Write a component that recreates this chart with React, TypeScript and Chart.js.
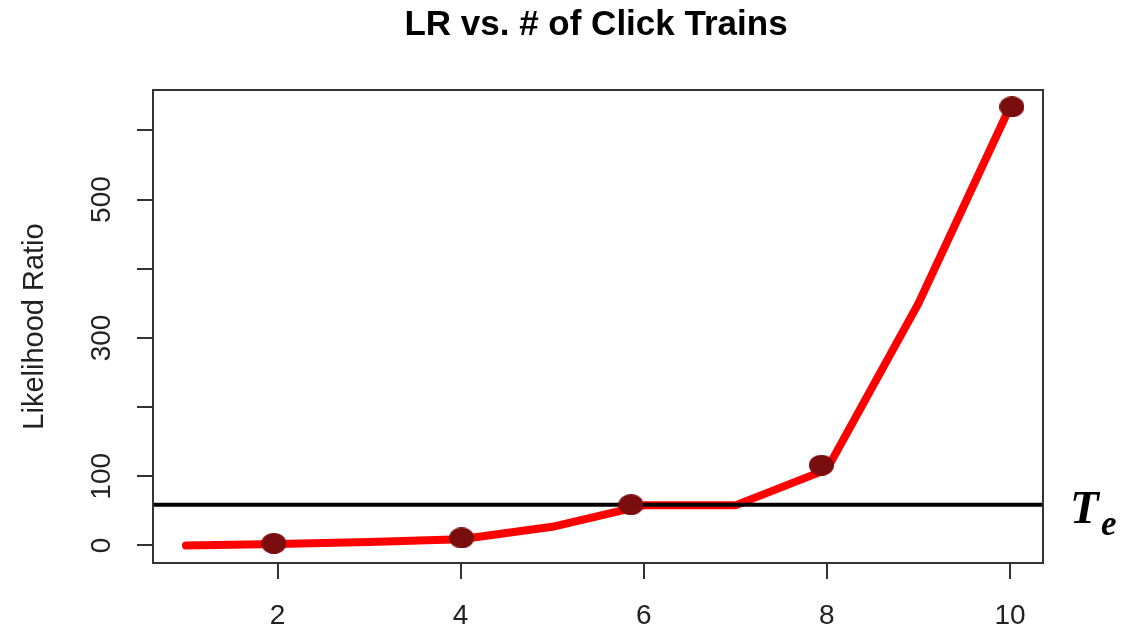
import React, { useEffect, useRef } from 'react';
import { Chart, registerables } from 'chart.js';

Chart.register(...registerables);

// ---- data ----
const xCategories = [1, 2, 3, 4, 5, 6, 7, 8, 9, 10];
const lrValues = [0, 2, 5, 9, 27, 58, 58, 110, 350, 634];
const markerX = [1.96, 4.01, 5.86, 7.94, 10.02];
const markerY = [3, 11, 59, 116, 634];
const threshold = 59;
const xTicks = [2, 4, 6, 8, 10];
const yTicks = [0, 100, 200, 300, 400, 500, 600];
const yTickLabels = ['0', '100', '', '300', '', '500', ''];
const xMin = 0.64;
const xMax = 10.36;
const yMin = -25.3;
const yMax = 658.3;
const titleText = 'LR vs. # of Click Trains';
const yTitleText = 'Likelihood Ratio';
const thresholdMain = 'T';
const thresholdSub = 'e';

const SANS = '"Liberation Sans", Arial, sans-serif';
const SERIF = '"Liberation Serif", "Times New Roman", serif';

function makeEllipse(w: number, h: number, color: string) {
  const c = document.createElement('canvas');
  c.width = w;
  c.height = h;
  const g = c.getContext('2d')!;
  g.fillStyle = color;
  g.beginPath();
  g.ellipse(w / 2, h / 2, w / 2, h / 2, 0, 0, Math.PI * 2);
  g.fill();
  return c;
}

const annotPlugin = {
  id: 'annot',
  afterDraw(chart: any) {
    const { ctx, chartArea: a, scales } = chart;
    ctx.save();
    ctx.strokeStyle = '#333';
    ctx.lineWidth = 2;
    ctx.strokeRect(a.left, a.top, a.right - a.left, a.bottom - a.top);

    ctx.fillStyle = '#000';
    ctx.font = `bold 35px ${SANS}`;
    ctx.textAlign = 'center';
    ctx.textBaseline = 'alphabetic';
    ctx.fillText(titleText, (a.left + a.right) / 2 - 2, 35);

    const ty = scales.y.getPixelForValue(threshold);
    ctx.textAlign = 'left';
    ctx.font = `italic bold 47px ${SERIF}`;
    ctx.fillText(thresholdMain, a.right + 27, ty + 18);
    ctx.font = `italic bold 35px ${SERIF}`;
    ctx.fillText(thresholdSub, a.right + 58, ty + 30);
    ctx.restore();
  },
};

export default function App() {
  const ref = useRef<HTMLCanvasElement | null>(null);

  useEffect(() => {
    if (!ref.current) return;
    const marker = makeEllipse(25, 21, '#7a0e0e');
    const tickGrid = {
      display: true,
      drawOnChartArea: false,
      drawTicks: true,
      tickLength: 16,
      color: '#333',
      lineWidth: 2,
    };
    const chart = new Chart(ref.current, {
      type: 'line',
      data: {
        datasets: [
          {
            data: markerX.map((x, i) => ({ x, y: markerY[i] })),
            showLine: false,
            pointStyle: marker as any,
            pointRadius: 12,
            backgroundColor: '#7a0e0e',
            borderColor: '#7a0e0e',
            order: 1,
          },
          {
            data: [
              { x: xMin, y: threshold },
              { x: xMax, y: threshold },
            ],
            borderColor: '#000',
            borderWidth: 4,
            pointRadius: 0,
            order: 2,
          },
          {
            data: xCategories.map((x, i) => ({ x, y: lrValues[i] })),
            borderColor: '#ff0000',
            borderWidth: 8,
            pointRadius: 0,
            borderCapStyle: 'round',
            borderJoinStyle: 'round',
            order: 3,
          },
        ],
      },
      options: {
        responsive: true,
        maintainAspectRatio: false,
        animation: false,
        layout: { padding: { left: 0, right: 97, top: 90, bottom: 0 } },
        plugins: {
          legend: { display: false },
          tooltip: { enabled: false },
          title: { display: false },
        },
        scales: {
          x: {
            type: 'linear',
            min: xMin,
            max: xMax,
            afterBuildTicks: (s: any) => {
              s.ticks = xTicks.map((v) => ({ value: v }));
            },
            afterFit: (s: any) => {
              s.height = 66;
            },
            grid: tickGrid,
            border: { display: false },
            ticks: {
              font: { family: SANS, size: 28 },
              color: '#222',
              padding: 20,
              maxRotation: 0,
              autoSkip: false,
              callback: (v: any) => String(v),
            },
          },
          y: {
            type: 'linear',
            min: yMin,
            max: yMax,
            afterBuildTicks: (s: any) => {
              s.ticks = yTicks.map((v) => ({ value: v }));
            },
            afterFit: (s: any) => {
              s.width = 153;
            },
            grid: tickGrid,
            border: { display: false },
            ticks: {
              font: { family: SANS, size: 28 },
              color: '#222',
              padding: 11.6,
              minRotation: 90,
              maxRotation: 90,
              crossAlign: 'center',
              autoSkip: false,
              callback: (v: any) => {
                const i = yTicks.indexOf(Number(v));
                return i >= 0 ? yTickLabels[i] : '';
              },
            },
            title: {
              display: true,
              text: yTitleText,
              font: { family: SANS, size: 29 },
              color: '#222',
              padding: { top: 17.6, bottom: 0 },
            },
          },
        },
      } as any,
      plugins: [annotPlugin],
    });
    return () => chart.destroy();
  }, []);

  return (
    <div style={{ position: 'absolute', left: 0, top: 0, width: 1140, height: 629, background: '#fff' }}>
      <canvas ref={ref} />
    </div>
  );
}
